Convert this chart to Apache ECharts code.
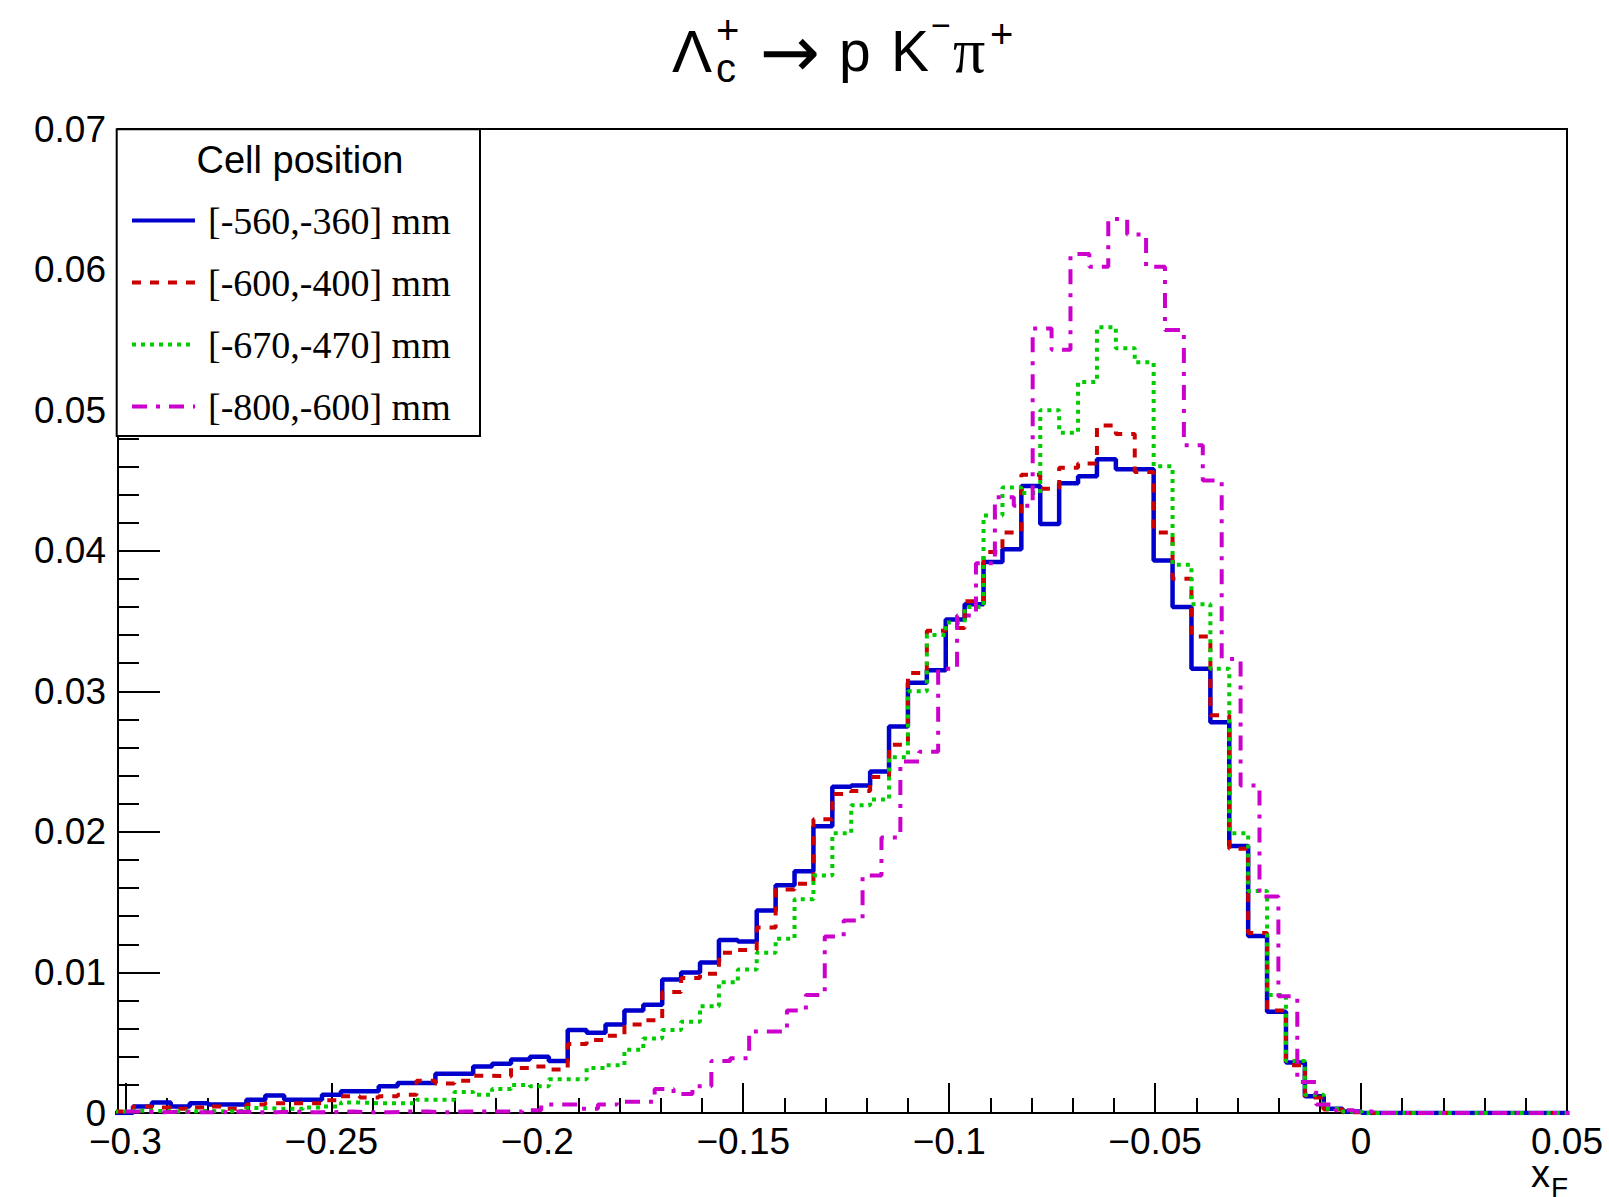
<!DOCTYPE html>
<html><head><meta charset="utf-8">
<script src="https://cdn.jsdelivr.net/npm/echarts@6/dist/echarts.min.js"></script>
<style>html,body{margin:0;padding:0;background:#fff}#c{width:1609px;height:1197px}</style>
</head><body><div id="c"></div>
<script>
// ---------- data ----------
const seriesNames = ['[-560,-360] mm', '[-600,-400] mm', '[-670,-470] mm', '[-800,-600] mm'];
const binWidth = 0.004589;
const binStartA = -0.30275;   // binning of the first three histograms
const binStartB = -0.3;       // binning of the magenta histogram

const blueValues = [
  0, 0.00047, 0.00075, 0.00047, 0.0007, 0.0006, 0.0006, 0.00095, 0.00125, 0.00095,
  0.00095, 0.0013, 0.00154, 0.00154, 0.0019, 0.00213, 0.00213, 0.0028, 0.0028, 0.0033,
  0.0035, 0.0038, 0.0040, 0.0037, 0.0059, 0.0057, 0.0063, 0.0073, 0.0077, 0.0095,
  0.0100, 0.0107, 0.0123, 0.0122, 0.0144, 0.0162, 0.0172, 0.0204, 0.0232, 0.0233,
  0.0243, 0.0275, 0.0306, 0.0315, 0.0351, 0.0362, 0.0392, 0.0401, 0.0446, 0.0419,
  0.0448, 0.0453, 0.0465, 0.0458, 0.0458, 0.0393, 0.0360, 0.0316, 0.0278, 0.0190,
  0.0126, 0.0072, 0.0036, 0.0012, 0.0003, 0.0001, 0, 0, 0, 0,
  0, 0, 0, 0, 0, 0, 0
];
const redValues = [
  0.0001, 0.00047, 0.0004, 0.0003, 0.0004, 0.00047, 0.0003, 0.0006, 0.0007, 0.0007,
  0.0007, 0.0009, 0.0012, 0.0011, 0.0012, 0.0013, 0.0023, 0.0021, 0.0023, 0.00265,
  0.0026, 0.0032, 0.0033, 0.0031, 0.0049, 0.0052, 0.0055, 0.0063, 0.0066, 0.0086,
  0.0096, 0.0099, 0.0114, 0.0116, 0.0132, 0.0159, 0.0163, 0.0209, 0.0227, 0.0229,
  0.0239, 0.0262, 0.0313, 0.0343, 0.0345, 0.0364, 0.0399, 0.0413, 0.0454, 0.0444,
  0.0459, 0.0462, 0.0489, 0.0483, 0.0456, 0.0413, 0.0380, 0.0339, 0.0283, 0.0188,
  0.0128, 0.0073, 0.0034, 0.0011, 0.00025, 0.00005, 0, 0, 0, 0,
  0, 0, 0, 0, 0, 0, 0
];
const greenValues = [
  0.0001, 0.00016, 0.00012, 0.0001, 0.00015, 0.0001, 0.00015, 0.00035, 0.0003, 0.0003,
  0.0004, 0.00047, 0.00075, 0.0007, 0.0007, 0.0007, 0.00095, 0.00095, 0.0015, 0.0013,
  0.0017, 0.0020, 0.0019, 0.0024, 0.0024, 0.0032, 0.0034, 0.0045, 0.0053, 0.0059,
  0.0065, 0.0076, 0.0093, 0.0102, 0.0114, 0.0124, 0.0152, 0.0169, 0.0199, 0.0219,
  0.0223, 0.0253, 0.0300, 0.0340, 0.0349, 0.0360, 0.0425, 0.0445, 0.0441, 0.0500,
  0.0484, 0.0520, 0.0559, 0.0544, 0.0534, 0.0460, 0.0390, 0.0362, 0.0316, 0.0199,
  0.0158, 0.0084, 0.0037, 0.0013, 0.0003, 0.0001, 0, 0, 0, 0,
  0, 0, 0, 0, 0, 0, 0
];
const magentaValues = [
  0.0001, 0.00005, 0.0001, 0.00005, 0.00005, 0.0001, 0.00005, 0.00005, 0.0001, 0.00005,
  0.00005, 0.0001, 0.00005, 0.00005, 0.0001, 0.0001, 0.00005, 0.0001, 0.0001, 0.0001,
  0.0001, 0.0002, 0.0006, 0.0006, 0.0003, 0.0006, 0.0008, 0.0008, 0.0017, 0.00135,
  0.0019, 0.0037, 0.0039, 0.0058, 0.0058, 0.0073, 0.0084, 0.01255, 0.0137, 0.0169,
  0.0196, 0.0250, 0.0257, 0.0316, 0.0354, 0.0391, 0.0438, 0.0432, 0.0558, 0.0543,
  0.0611, 0.0602, 0.0636, 0.0625, 0.0602, 0.0557, 0.0475, 0.0450, 0.0323, 0.0233,
  0.0154, 0.0083, 0.0022, 0.0006, 0.0002, 0.0001, 0, 0, 0, 0,
  0, 0, 0, 0, 0, 0, 0
];

const xMajorTicks = [-0.3, -0.25, -0.2, -0.15, -0.1, -0.05, 0, 0.05];
const xMinorTicks = [-0.29, -0.28, -0.27, -0.26, -0.24, -0.23, -0.22, -0.21, -0.19, -0.18,
  -0.17, -0.16, -0.14, -0.13, -0.12, -0.11, -0.09, -0.08, -0.07, -0.06, -0.04, -0.03,
  -0.02, -0.01, 0.01, 0.02, 0.03, 0.04];
const xMin = -0.3018, xMax = 0.05;
const yMin = 0, yMax = 0.07, yInterval = 0.01;

// ---------- build histogram outlines ----------
function stepData(start, values) {
  const pts = values.map((v, i) => [start + i * binWidth, v]);
  pts.push([start + values.length * binWidth, values[values.length - 1]]);
  return pts;
}

const SANS = 'Liberation Sans';
const SERIF = 'Liberation Serif';

function xLabel(v) {
  if (Math.abs(v) < 1e-9) return '0';
  return String(+v.toFixed(2)).replace('-', '\u2212');
}

const chart = echarts.init(document.getElementById('c'), null, {renderer: 'svg', width: 1609, height: 1197});

const styles = [
  {color: '#0000cc', width: 4.5, type: 'solid'},
  {color: '#cc0000', width: 4, type: [9, 9]},
  {color: '#00cc00', width: 4, type: [4, 5]},
  {color: '#cc00cc', width: 4, type: [15, 9, 4, 9]}
];
const dataSets = [
  stepData(binStartA, blueValues),
  stepData(binStartA, redValues),
  stepData(binStartA, greenValues),
  stepData(binStartB, magentaValues)
];

const series = dataSets.map((d, i) => ({
  type: 'line',
  name: seriesNames[i],
  data: d,
  step: 'end',
  symbol: 'none',
  showSymbol: false,
  clip: true,
  z: 2 + i,
  lineStyle: styles[i],
  itemStyle: {color: styles[i].color},
  emphasis: {disabled: true}
}));

const option = {
  animation: false,
  backgroundColor: '#fff',
  grid: {left: 118, right: 42, top: 129, bottom: 84, show: true, borderColor: '#000', borderWidth: 2,
         backgroundColor: 'transparent', containLabel: false, outerBoundsMode: 'none'},
  xAxis: [
    {
      type: 'value', min: xMin, max: xMax, position: 'bottom',
      axisLine: {show: true, onZero: false, lineStyle: {color: '#000', width: 2}},
      axisTick: {show: true, inside: true, length: 30, customValues: xMajorTicks, lineStyle: {color: '#000', width: 2}},
      axisLabel: {show: true, customValues: xMajorTicks, formatter: xLabel, color: '#000',
                  fontFamily: SANS, fontSize: 37, margin: 10},
      splitLine: {show: false}, minorTick: {show: false}
    },
    {
      type: 'value', min: xMin, max: xMax, position: 'bottom',
      axisLine: {show: false},
      axisTick: {show: true, inside: true, length: 15, customValues: xMinorTicks, lineStyle: {color: '#000', width: 2}},
      axisLabel: {show: false},
      splitLine: {show: false}
    }
  ],
  yAxis: {
    type: 'value', min: yMin, max: yMax, interval: yInterval,
    axisLine: {show: true, onZero: false, lineStyle: {color: '#000', width: 2}},
    axisTick: {show: true, inside: true, length: 42, lineStyle: {color: '#000', width: 2}},
    minorTick: {show: true, splitNumber: 5, length: 21, lineStyle: {color: '#000', width: 2}},
    axisLabel: {color: '#000', fontFamily: SANS, fontSize: 37, margin: 12, lineHeight: 18,
                formatter: v => (Math.abs(v) < 1e-9 ? '0' : v.toFixed(2))},
    splitLine: {show: false}
  },
  legend: {
    show: true, orient: 'vertical', left: 130, top: 201.6, padding: 0,
    itemWidth: 63, itemHeight: 38, itemGap: 24, selectedMode: false, z: 20,
    data: seriesNames,
    itemStyle: {opacity: 0},
    lineStyle: {width: 4},
    textStyle: {fontFamily: SERIF, fontSize: 38, color: '#000', lineHeight: 38, padding: [0, 0, 0, 8]}
  },
  graphic: [
    {type: 'rect', z: 10, shape: {x: 116.7, y: 129.3, width: 363.3, height: 306.7},
     style: {fill: '#fff', stroke: '#000', lineWidth: 2}},
    {type: 'text', z: 11, x: 300, y: 160,
     style: {text: 'Cell position', fontFamily: SANS, fontSize: 38, fill: '#000', align: 'center', verticalAlign: 'middle'}},
    // title: Λc+ → p K−π+
    {type: 'text', x: 672, y: 51, style: {text: 'Λ', fontFamily: SANS, fontSize: 60, fill: '#000', align: 'left', verticalAlign: 'middle'}},
    {type: 'text', x: 716, y: 68, style: {text: 'c', fontFamily: SANS, fontSize: 40, lineHeight: 28, fill: '#000', align: 'left', verticalAlign: 'middle'}},
    {type: 'text', x: 716, y: 30, style: {text: '+', fontFamily: SANS, fontSize: 40, lineHeight: 28, fill: '#000', align: 'left', verticalAlign: 'middle'}},
    {type: 'text', x: 790, y: 52, style: {text: '→', fontFamily: 'DejaVu Sans', fontSize: 72, fill: '#000', align: 'center', verticalAlign: 'middle'}},
    {type: 'text', x: 839, y: 51, style: {text: 'p', fontFamily: SANS, fontSize: 57, fill: '#000', align: 'left', verticalAlign: 'middle'}},
    {type: 'text', x: 891, y: 51, style: {text: 'K', fontFamily: SANS, fontSize: 57, fill: '#000', align: 'left', verticalAlign: 'middle'}},
    {type: 'text', x: 931, y: 25, style: {text: '\u2212', fontFamily: SANS, fontSize: 34, lineHeight: 20, fill: '#000', align: 'left', verticalAlign: 'middle'}},
    {type: 'text', x: 953, y: 50, style: {text: 'π', fontFamily: SERIF, fontSize: 64, fill: '#000', align: 'left', verticalAlign: 'middle'}},
    {type: 'text', x: 990, y: 34, style: {text: '+', fontFamily: SANS, fontSize: 40, lineHeight: 28, fill: '#000', align: 'left', verticalAlign: 'middle'}},
    // x-axis title x_F
    {type: 'text', x: 1531, y: 1174, style: {text: 'x', fontFamily: SANS, fontSize: 38, lineHeight: 20, fill: '#000', align: 'left', verticalAlign: 'middle'}},
    {type: 'text', x: 1551, y: 1187, style: {text: 'F', fontFamily: SANS, fontSize: 28, lineHeight: 16, fill: '#000', align: 'left', verticalAlign: 'middle'}}
  ],
  series: series
};
chart.setOption(option);
</script>
</body></html>
